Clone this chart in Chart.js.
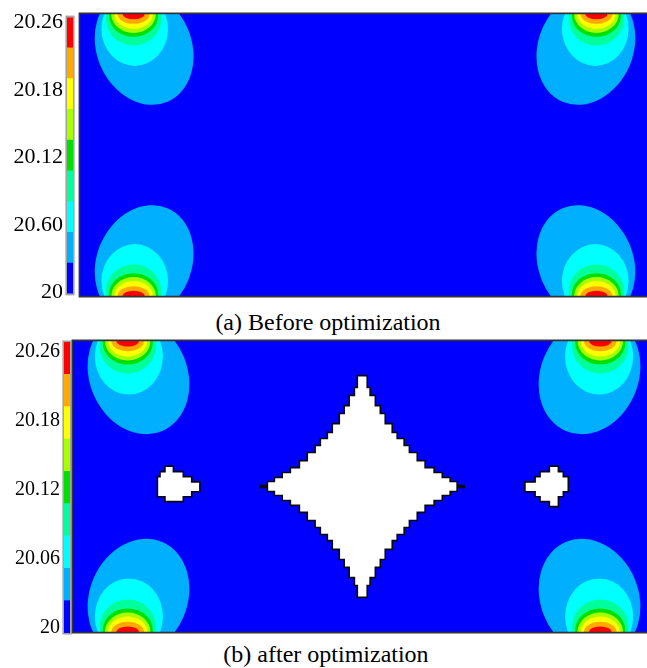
<!DOCTYPE html>
<html>
<head>
<meta charset="utf-8">
<script src="https://cdn.jsdelivr.net/npm/chart.js@4.4.1/dist/chart.umd.min.js"></script>
<style>
  html, body { margin: 0; padding: 0; background: #fff; width: 647px; height: 668px; overflow: hidden; }
  canvas { position: absolute; }
  .cap {
    position: absolute;
    font-family: "Liberation Serif", serif;
    font-size: 24px;
    line-height: 1;
    color: #000;
    white-space: nowrap;
    transform: translateX(-50%);
  }
</style>
</head>
<body>
<canvas id="barA" width="76" height="311" style="left:0px;top:0px"></canvas>
<canvas id="fieldA" width="572" height="286" style="left:78px;top:12px"></canvas>
<div class="cap" style="left:328px;top:310px">(a) Before optimization</div>

<canvas id="barB" width="73" height="323" style="left:0px;top:326px"></canvas>
<canvas id="fieldB" width="584" height="295" style="left:71px;top:339px"></canvas>
<div class="cap" style="left:326px;top:642px">(b) after optimization</div>

<script>
// ---- legend levels (bottom → top) ----
const bandColors = ['#0000ff', '#00b0ff', '#00ffff', '#00ff9c', '#00e000', '#a8ff00', '#ffff00', '#ffaa00', '#ff0000'];
const tickLabelsA = ['20', '20.60', '20.12', '20.18', '20.26'];
const tickLabelsB = ['20', '20.06', '20.12', '20.18', '20.26'];

// ---- plate: 2 x 1, heat sources sit on the top and bottom edges ----
const sourceX = [0.188, 1.812];
const sourceY = [0, 1];

// contour bands around each source, outermost (light blue) → innermost (red)
// du: shift toward the plate middle, dv: shift into the plate,
// ra/rb: semi-axes, tilt: degrees of the ra axis (leaning inward)
const bandDu   = [0.037, 0.004, 0.000, 0.000, 0.000, 0.000, 0.000, 0.000];
const bandDv   = [0.118, 0.053, 0.018, 0.007, 0.000, 0.000, 0.000, 0.000];
const bandRa   = [0.208, 0.117, 0.097, 0.086, 0.078, 0.067, 0.056, 0.039];
const bandRb   = [0.168, 0.131, 0.094, 0.074, 0.067, 0.053, 0.035, 0.019];
const bandTilt = [66.8, 0, 0, 0, 0, 0, 0, 0];

// ---- optimized layout: central star-shaped void (one quarter profile) ----
const starCentre = [0.994, 0.5];
const starDx = [0.000, 0.017, 0.027, 0.045, 0.062, 0.079, 0.103, 0.120, 0.144, 0.162, 0.189, 0.216, 0.247, 0.275, 0.302, 0.326, 0.351];
const starDy = [0.381, 0.340, 0.313, 0.278, 0.251, 0.216, 0.186, 0.165, 0.141, 0.117, 0.089, 0.065, 0.048, 0.031, 0.017, 0.003, 0.000];

// small side voids
const holeLeft = [
  [0.316, 0.570], [0.345, 0.570], [0.345, 0.551], [0.379, 0.551], [0.379, 0.534], [0.408, 0.534],
  [0.408, 0.516], [0.436, 0.516], [0.436, 0.482], [0.408, 0.482], [0.408, 0.465], [0.379, 0.465],
  [0.379, 0.448], [0.316, 0.448], [0.316, 0.465], [0.290, 0.465], [0.290, 0.534], [0.299, 0.534],
  [0.299, 0.551], [0.316, 0.551]
];
const holeRight = [
  [1.637, 0.570], [1.668, 0.570], [1.668, 0.551], [1.685, 0.551], [1.685, 0.534], [1.702, 0.534],
  [1.702, 0.482], [1.685, 0.482], [1.685, 0.465], [1.668, 0.465], [1.668, 0.431], [1.637, 0.431],
  [1.637, 0.448], [1.605, 0.448], [1.605, 0.465], [1.588, 0.465], [1.588, 0.482], [1.553, 0.482],
  [1.553, 0.516], [1.588, 0.516], [1.588, 0.534], [1.605, 0.534], [1.605, 0.551], [1.637, 0.551]
];

const SERIF = 'Liberation Serif';
Chart.defaults.font.family = SERIF;
Chart.defaults.color = '#000';

// stair-step outline of the star from its quarter profile, mirrored into all quadrants
function starOutline() {
  const q = [[starDx[0], starDy[0]]];
  for (let i = 1; i < starDx.length; i++) {
    q.push([starDx[i], starDy[i - 1]]);
    q.push([starDx[i], starDy[i]]);
  }
  const pts = [];
  q.forEach(([a, b]) => pts.push([a, b]));
  q.slice(0, -1).reverse().forEach(([a, b]) => pts.push([a, -b]));
  q.slice(1).forEach(([a, b]) => pts.push([-a, -b]));
  q.slice(0, -1).reverse().forEach(([a, b]) => pts.push([-a, b]));
  return pts.map(([a, b]) => ({ x: starCentre[0] + a, y: starCentre[1] + b }));
}

function closedPath(list) {
  const pts = list.map(([x, y]) => ({ x, y }));
  pts.push({ ...pts[0] });
  return pts;
}

function voidDataset(points) {
  return {
    data: points,
    showLine: true,
    fill: 'shape',
    backgroundColor: '#ffffff',
    borderColor: '#0a0a0a',
    borderWidth: 1.6,
    borderJoinStyle: 'miter',
    pointRadius: 0,
    tension: 0
  };
}

// blue plate + elliptical contour bands, drawn in data space through the scales
const contourBands = {
  id: 'contourBands',
  beforeDatasetsDraw(chart) {
    const { ctx, chartArea: a, scales: { x, y } } = chart;
    const kx = Math.abs(x.getPixelForValue(1) - x.getPixelForValue(0));
    const ky = Math.abs(y.getPixelForValue(1) - y.getPixelForValue(0));
    ctx.save();
    ctx.beginPath();
    ctx.rect(a.left, a.top, a.width, a.height);
    ctx.clip();
    ctx.fillStyle = bandColors[0];
    ctx.fillRect(a.left, a.top, a.width, a.height);
    bandRa.forEach((ra, i) => {
      ctx.fillStyle = bandColors[i + 1];
      sourceX.forEach(sx => sourceY.forEach(sy => {
        const su = sx < 1 ? 1 : -1;
        const sv = sy > 0.5 ? -1 : 1;
        const cx = x.getPixelForValue(sx + su * bandDu[i]);
        const cy = y.getPixelForValue(sy + sv * bandDv[i]);
        const rot = bandTilt[i] * Math.PI / 180 * su * -sv;
        ctx.beginPath();
        ctx.ellipse(cx, cy, ra * kx, bandRb[i] * ky, rot, 0, Math.PI * 2);
        ctx.fill();
      }));
    });
    ctx.restore();
  },
  afterDraw(chart) {
    const { ctx, chartArea: a } = chart;
    ctx.save();
    ctx.strokeStyle = '#333';
    ctx.lineWidth = 1.6;
    ctx.beginPath();
    ctx.moveTo(a.right + 2, a.top - 0.6);
    ctx.lineTo(a.left - 0.6, a.top - 0.6);
    ctx.lineTo(a.left - 0.6, a.bottom + 0.6);
    ctx.lineTo(a.right + 2, a.bottom + 0.6);
    ctx.stroke();
    ctx.restore();
  }
};

const legendFrame = {
  id: 'legendFrame',
  afterDatasetsDraw(chart) {
    const { ctx, chartArea: a } = chart;
    ctx.save();
    ctx.strokeStyle = '#a4a4a4';
    ctx.lineWidth = 1.6;
    ctx.strokeRect(a.left - 0.8, a.top - 0.8, a.width + 1.6, a.height + 1.6);
    ctx.restore();
  }
};

function makeField(id, datasets) {
  return new Chart(document.getElementById(id), {
    type: 'scatter',
    data: { datasets },
    options: {
      responsive: false,
      animation: false,
      devicePixelRatio: 1,
      layout: { padding: { left: 2, top: 2, right: 0, bottom: 2 } },
      scales: {
        x: { type: 'linear', min: 0, max: 2, display: false },
        y: { type: 'linear', min: 0, max: 1, display: false }
      },
      plugins: { legend: { display: false }, tooltip: { enabled: false } }
    },
    plugins: [contourBands]
  });
}

// labels run from just above the bottom of the bar to just below its top
function makeLegend(id, labels, fontSize, areaLeft, insetLow, insetHigh) {
  const n = bandColors.length;
  return new Chart(document.getElementById(id), {
    type: 'bar',
    data: {
      labels: [''],
      datasets: bandColors.map(c => ({
        data: [1],
        backgroundColor: c,
        borderWidth: 0,
        barPercentage: 1,
        categoryPercentage: 1
      }))
    },
    options: {
      responsive: false,
      animation: false,
      devicePixelRatio: 1,
      layout: { padding: { left: 0, top: 14, right: 3, bottom: 14 } },
      scales: {
        x: { stacked: true, display: false },
        y: {
          stacked: true,
          min: 0,
          max: n,
          position: 'left',
          grid: { display: false, drawTicks: false },
          border: { display: false },
          ticks: {
            autoSkip: false,
            padding: 4,
            color: '#000',
            font: { family: SERIF, size: fontSize },
            callback: (v, i) => labels[i]
          },
          afterBuildTicks: s => {
            const lo = insetLow, hi = n - insetHigh;
            s.ticks = labels.map((_, i) => ({ value: lo + i * (hi - lo) / (labels.length - 1) }));
          },
          afterFit: s => { s.width = areaLeft; }
        }
      },
      plugins: { legend: { display: false }, tooltip: { enabled: false } }
    },
    plugins: [legendFrame]
  });
}

makeLegend('barA', tickLabelsA, 22, 67, 0.05, 0.17);
makeField('fieldA', []);

makeLegend('barB', tickLabelsB, 20, 64, 0.15, 0.3);
makeField('fieldB', [
  voidDataset(starOutline()),
  voidDataset(closedPath(holeLeft)),
  voidDataset(closedPath(holeRight))
]);
</script>
</body>
</html>
